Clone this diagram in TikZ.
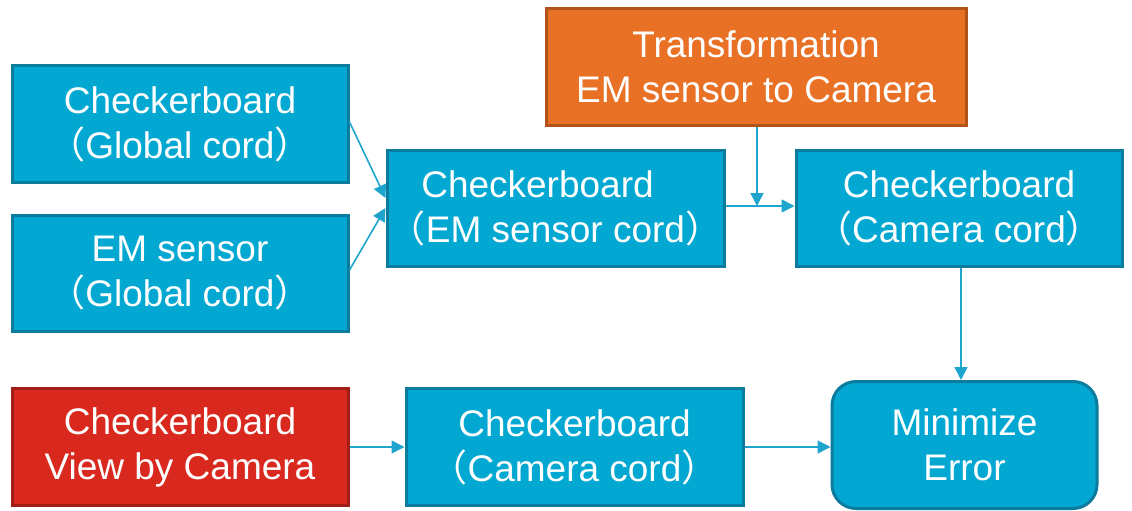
\documentclass[tikz,border=0pt]{standalone}
\usepackage{fontspec}
\setmainfont{Liberation Sans}
\newfontfamily\cjkfont{Noto Sans CJK SC}
\usetikzlibrary{arrows.meta}
\newcommand{\LPar}{{\cjkfont （}}
\newcommand{\RPar}{{\cjkfont ）}}
\definecolor{bluefill}{RGB}{2,168,210}
\definecolor{blueedge}{RGB}{12,124,158}
\definecolor{orangefill}{RGB}{233,113,38}
\definecolor{orangeedge}{RGB}{178,84,26}
\definecolor{redfill}{RGB}{217,40,30}
\definecolor{rededge}{RGB}{160,30,22}
\definecolor{arrowcol}{RGB}{30,165,205}
\begin{document}
\begin{tikzpicture}[x=1pt,y=-1pt,
  box/.style={rectangle, line width=3pt, text=white, align=center, inner sep=0pt,
    font=\fontsize{37}{45}\selectfont},
  bluebox/.style={box, fill=bluefill, draw=blueedge},
  orangebox/.style={box, fill=orangefill, draw=orangeedge},
  redbox/.style={box, fill=redfill, draw=rededge},
  conn/.style={draw=arrowcol, line width=1.6pt, -{Triangle[length=13pt,width=13pt]}}]
\useasboundingbox (0,0) rectangle (1132,511);
\node[bluebox, minimum width=336pt, minimum height=116pt] (cbg) at (180,124) {Checkerboard\\\LPar Global cord\RPar};
\node[bluebox, minimum width=336pt, minimum height=116pt] (emg) at (180,273) {EM sensor\\\LPar Global cord\RPar};
\node[bluebox, minimum width=337pt, minimum height=116pt] (cbem) at (555.5,208) {Checkerboard\hspace*{36pt}\\\LPar EM sensor cord\RPar};
\node[orangebox, minimum width=420pt, minimum height=117pt] (tr) at (756,67) {Transformation\\EM sensor to Camera};
\node[bluebox, minimum width=326pt, minimum height=116pt] (cbc) at (959,208) {Checkerboard\\\LPar Camera cord\RPar};
\node[redbox, minimum width=336pt, minimum height=117pt] (view) at (180,447) {Checkerboard\\View by Camera};
\node[bluebox, minimum width=337pt, minimum height=117pt] (cbc2) at (574.5,447) {Checkerboard\\\LPar Camera cord\RPar};
\node[bluebox, rounded corners=24pt, minimum width=265pt, minimum height=127pt] (min) at (964.5,445) {Minimize\\Error};
\coordinate (j) at (757,206);
\coordinate (v) at (961,0);
\draw[conn] (cbg.east |- 0,122) -- (cbem.west |- 0,198);
\draw[conn] (emg.east |- 0,270) -- (cbem.west |- 0,208);
\draw[conn] (cbem.east |- j) -- (cbc.west |- j);
\draw[conn] (tr.south -| j) -- (j);
\draw[conn] (cbc.south -| v) -- (min.north -| v);
\draw[conn] (view.east) -- (cbc2.west);
\draw[conn] (cbc2.east) -- (min.west |- cbc2.east);
\end{tikzpicture}
\end{document}
